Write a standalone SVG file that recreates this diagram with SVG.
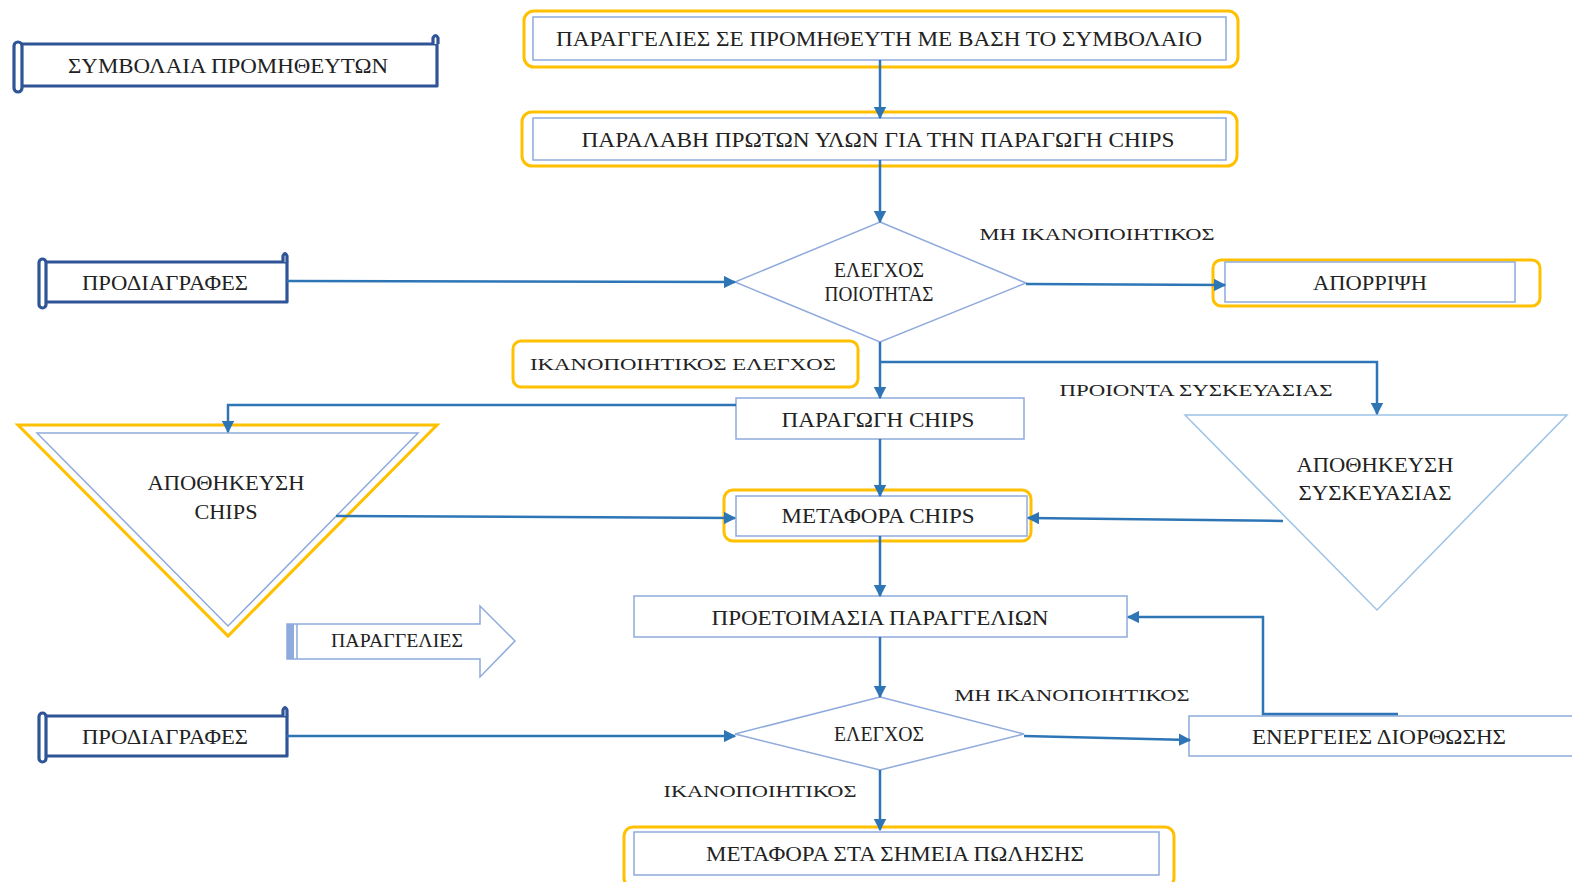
<svg xmlns="http://www.w3.org/2000/svg" width="1572" height="882" viewBox="0 0 1572 882">
  <style>
    .t { font-family: "Liberation Serif", "Times New Roman", serif; font-size: 20px; fill: #222; text-anchor: middle; dominant-baseline: central; }
    .lbl { font-family: "Liberation Serif", "Times New Roman", serif; font-size: 17px; fill: #222; text-anchor: middle; dominant-baseline: central; }
    .gold { fill: none; stroke: #FFC000; stroke-width: 3; }
    .inner { fill: #fff; stroke: #8FAADC; stroke-width: 1.5; }
    .scroll { fill: #fff; stroke: #2F5597; stroke-width: 3.2; stroke-linejoin: round; }
    .conn { fill: none; stroke: #2E75B6; stroke-width: 2.5; marker-end: url(#arr); }
  </style>
  <defs>
    <marker id="arr" viewBox="0 0 10 10" refX="9" refY="5" markerWidth="5" markerHeight="5" orient="auto" markerUnits="strokeWidth">
      <path d="M0,0 L10,5 L0,10 z" fill="#2E75B6"/>
    </marker>
  </defs>
  <rect width="1572" height="882" fill="#fff"/>

  <!-- supplier contracts scroll -->
  <g id="contracts">
    <rect class="scroll" x="18" y="44" width="419" height="42"/>
    <path class="scroll" d="M433,44 L433,38 Q435.5,33 438,38 L438,44" fill="#2F5597"/>
    <rect class="scroll" x="14" y="42" width="8" height="50" rx="4"/>
    <text class="t" x="228" y="66" textLength="320" lengthAdjust="spacingAndGlyphs">ΣΥΜΒΟΛΑΙΑ ΠΡΟΜΗΘΕΥΤΩΝ</text>
  </g>

  <g id="orders-supplier">
    <rect class="gold" x="524" y="11" width="714" height="56" rx="10"/>
    <rect class="inner" x="533" y="17" width="693" height="43"/>
    <text class="t" x="879" y="39" textLength="646" lengthAdjust="spacingAndGlyphs">ΠΑΡΑΓΓΕΛΙΕΣ ΣΕ ΠΡΟΜΗΘΕΥΤΗ ΜΕ ΒΑΣΗ ΤΟ ΣΥΜΒΟΛΑΙΟ</text>
  </g>

  <g id="receive-materials">
    <rect class="gold" x="522" y="112" width="715" height="54" rx="10"/>
    <rect class="inner" x="533" y="118" width="693" height="42"/>
    <text class="t" x="878" y="140" textLength="593" lengthAdjust="spacingAndGlyphs">ΠΑΡΑΛΑΒΗ ΠΡΩΤΩΝ ΥΛΩΝ ΓΙΑ ΤΗΝ ΠΑΡΑΓΩΓΗ CHIPS</text>
  </g>

  <g id="specs-1">
    <rect class="scroll" x="43" y="262" width="244" height="40"/>
    <path class="scroll" d="M283,262 L283,256 Q285,251 287,256 L287,262" fill="#2F5597"/>
    <rect class="scroll" x="39" y="259" width="7" height="49" rx="3.5"/>
    <text class="t" x="165" y="283" textLength="166" lengthAdjust="spacingAndGlyphs">ΠΡΟΔΙΑΓΡΑΦΕΣ</text>
  </g>

  <g id="quality-check">
    <polygon points="880,222 1026,283 880,342 735,282" fill="#fff" stroke="#8FAADC" stroke-width="1.5"/>
    <text class="t" x="879" y="270" textLength="90" lengthAdjust="spacingAndGlyphs">ΕΛΕΓΧΟΣ</text>
    <text class="t" x="879" y="294" textLength="109" lengthAdjust="spacingAndGlyphs">ΠΟΙΟΤΗΤΑΣ</text>
  </g>

  <text class="lbl" x="1097" y="234" textLength="235" lengthAdjust="spacingAndGlyphs">ΜΗ ΙΚΑΝΟΠΟΙΗΤΙΚΟΣ</text>

  <g id="reject">
    <rect class="gold" x="1213" y="260" width="327" height="46" rx="8"/>
    <rect class="inner" x="1225" y="262" width="290" height="40"/>
    <text class="t" x="1370" y="283" textLength="114" lengthAdjust="spacingAndGlyphs">ΑΠΟΡΡΙΨΗ</text>
  </g>

  <g id="check-ok">
    <rect class="gold" x="513" y="341" width="345" height="46" rx="8" fill="#fff"/>
    <text class="lbl" x="683" y="364" textLength="306" lengthAdjust="spacingAndGlyphs">ΙΚΑΝΟΠΟΙΗΤΙΚΟΣ ΕΛΕΓΧΟΣ</text>
  </g>

  <text class="lbl" x="1196" y="390" textLength="273" lengthAdjust="spacingAndGlyphs">ΠΡΟΙΟΝΤΑ ΣΥΣΚΕΥΑΣΙΑΣ</text>

  <g id="production">
    <rect class="inner" x="736" y="398" width="288" height="41"/>
    <text class="t" x="878" y="420" textLength="193" lengthAdjust="spacingAndGlyphs">ΠΑΡΑΓΩΓΗ CHIPS</text>
  </g>

  <g id="chips-storage">
    <polygon points="18,425 437,425 228,636" fill="#fff" stroke="#FFC000" stroke-width="3"/>
    <polygon points="37,433 418,433 228,626" fill="none" stroke="#8FAADC" stroke-width="1.5"/>
    <text class="t" x="226" y="483" textLength="157" lengthAdjust="spacingAndGlyphs">ΑΠΟΘΗΚΕΥΣΗ</text>
    <text class="t" x="226" y="512" textLength="63" lengthAdjust="spacingAndGlyphs">CHIPS</text>
  </g>

  <g id="chips-transport">
    <rect class="gold" x="724" y="490" width="307" height="51" rx="9"/>
    <rect class="inner" x="736" y="496" width="291" height="40"/>
    <text class="t" x="878" y="516" textLength="193" lengthAdjust="spacingAndGlyphs">ΜΕΤΑΦΟΡΑ CHIPS</text>
  </g>

  <g id="packaging-storage">
    <polygon points="1185,415 1567,415 1377,610" fill="#fff" stroke="#9DC3E6" stroke-width="1.5"/>
    <text class="t" x="1375" y="465" textLength="157" lengthAdjust="spacingAndGlyphs">ΑΠΟΘΗΚΕΥΣΗ</text>
    <text class="t" x="1375" y="493" textLength="153" lengthAdjust="spacingAndGlyphs">ΣΥΣΚΕΥΑΣΙΑΣ</text>
  </g>

  <g id="orders-arrow">
    <polygon points="287,624 480,624 480,606 515,641 480,677 480,659 287,659" fill="#fff" stroke="#8FAADC" stroke-width="1.5"/>
    <rect x="287" y="624" width="7" height="35" fill="#8FAADC"/>
    <line x1="297" y1="624" x2="297" y2="659" stroke="#8FAADC" stroke-width="1.5"/>
    <text class="t" x="397" y="641" style="font-size:18px" textLength="132" lengthAdjust="spacingAndGlyphs">ΠΑΡΑΓΓΕΛΙΕΣ</text>
  </g>

  <g id="order-prep">
    <rect class="inner" x="634" y="596" width="493" height="41"/>
    <text class="t" x="880" y="618" textLength="337" lengthAdjust="spacingAndGlyphs">ΠΡΟΕΤΟΙΜΑΣΙΑ ΠΑΡΑΓΓΕΛΙΩΝ</text>
  </g>

  <text class="lbl" x="1072" y="695" textLength="235" lengthAdjust="spacingAndGlyphs">ΜΗ ΙΚΑΝΟΠΟΙΗΤΙΚΟΣ</text>

  <g id="specs-2">
    <rect class="scroll" x="43" y="716" width="244" height="40"/>
    <path class="scroll" d="M283,716 L283,710 Q285,705 287,710 L287,716" fill="#2F5597"/>
    <rect class="scroll" x="39" y="713" width="7" height="49" rx="3.5"/>
    <text class="t" x="165" y="737" textLength="166" lengthAdjust="spacingAndGlyphs">ΠΡΟΔΙΑΓΡΑΦΕΣ</text>
  </g>

  <g id="check">
    <polygon points="880,697 1024,734 880,770 735,734" fill="#fff" stroke="#8FAADC" stroke-width="1.5"/>
    <text class="t" x="879" y="734" textLength="90" lengthAdjust="spacingAndGlyphs">ΕΛΕΓΧΟΣ</text>
  </g>

  <g id="corrective-actions">
    <rect class="inner" x="1189" y="716" width="390" height="40"/>
    <text class="t" x="1379" y="737" textLength="254" lengthAdjust="spacingAndGlyphs">ΕΝΕΡΓΕΙΕΣ ΔΙΟΡΘΩΣΗΣ</text>
  </g>

  <text class="lbl" x="760" y="791" textLength="193" lengthAdjust="spacingAndGlyphs">ΙΚΑΝΟΠΟΙΗΤΙΚΟΣ</text>

  <g id="delivery">
    <rect class="gold" x="624" y="827" width="550" height="60" rx="9"/>
    <rect class="inner" x="634" y="832" width="525" height="43"/>
    <text class="t" x="895" y="854" textLength="378" lengthAdjust="spacingAndGlyphs">ΜΕΤΑΦΟΡΑ ΣΤΑ ΣΗΜΕΙΑ ΠΩΛΗΣΗΣ</text>
  </g>

  <!-- connectors, drawn on top of the shapes -->
  <g id="connectors">
    <path class="conn" d="M880,60 L880,118"/>
    <path class="conn" d="M880,160 L880,222"/>
    <path class="conn" d="M287,281 L735,282"/>
    <path class="conn" d="M1026,284 L1225,285"/>
    <path class="conn" d="M880,342 L880,398"/>
    <path class="conn" d="M880,362 L1377,362 L1377,414"/>
    <path class="conn" d="M736,405 L228,405 L228,432"/>
    <path class="conn" d="M336,516 L735,518"/>
    <path class="conn" d="M880,439 L880,496"/>
    <path class="conn" d="M1283,521 L1028,518"/>
    <path class="conn" d="M880,536 L880,596"/>
    <path class="conn" d="M1398,714 L1263,714 L1263,617 L1128,617"/>
    <path class="conn" d="M880,637 L880,697"/>
    <path class="conn" d="M287,736 L735,736"/>
    <path class="conn" d="M1024,736 L1190,740"/>
    <path class="conn" d="M880,770 L880,830"/>
  </g>
</svg>
